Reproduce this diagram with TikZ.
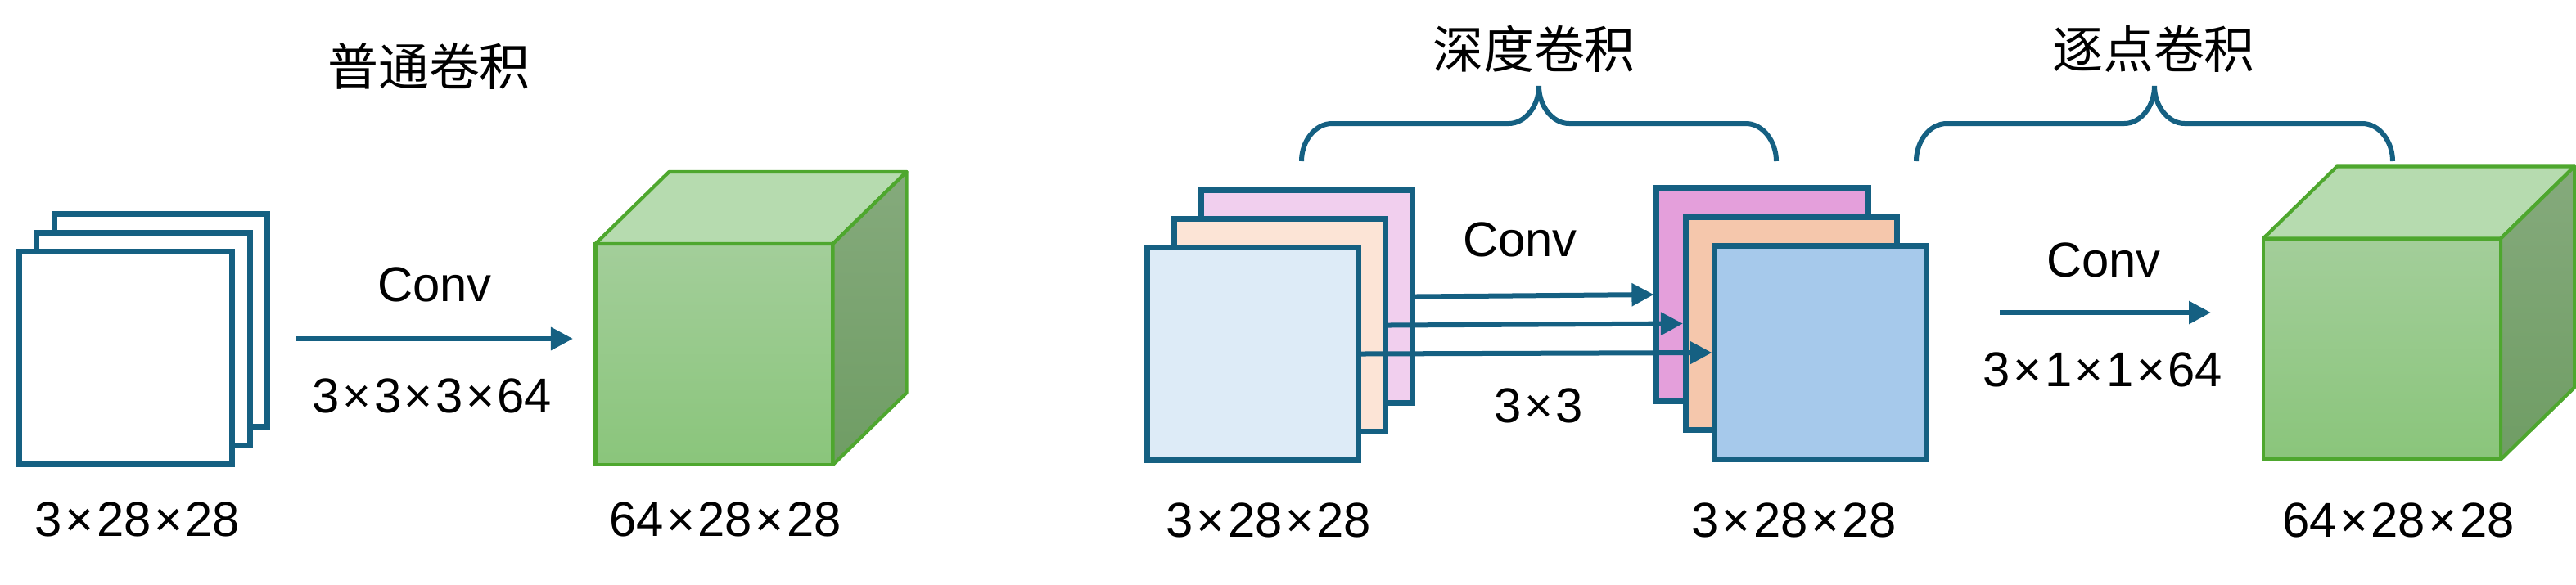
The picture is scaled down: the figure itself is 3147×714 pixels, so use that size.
\documentclass[tikz,border=0pt]{standalone}
\usepackage{fontspec}
\setmainfont{Liberation Sans}
\newfontfamily\cjk{Noto Sans CJK SC}
\usepackage{tikz}
\usetikzlibrary{positioning,arrows.meta}
\usepackage{xcolor}
\definecolor{convblue}{HTML}{156082}
\definecolor{cubegreen}{HTML}{4EA72E}
\definecolor{pinklt}{RGB}{241,207,238}
\definecolor{peachlt}{RGB}{252,228,214}
\definecolor{bluelt}{RGB}{221,235,247}
\definecolor{pinkdk}{RGB}{228,159,219}
\definecolor{peachdk}{RGB}{245,199,172}
\definecolor{bluedk}{RGB}{166,201,235}
\newcommand{\timesx}{\kern1pt×\kern1pt}

\begin{document}
\begin{tikzpicture}[
  x=0.01cm, y=-0.01cm,
  sheet/.style={draw=convblue, line width=0.07cm, fill=white, inner sep=0pt, minimum width=2.6cm, minimum height=2.6cm},
  dwsheet/.style={sheet, minimum width=2.58cm, minimum height=2.6cm},
  cubeface/.style={draw=cubegreen, line width=1.2pt, outer sep=0pt, inner sep=0pt, minimum width=2.9cm, minimum height=2.7cm, top color={rgb,255:red,163;green,206;blue,154}, bottom color={rgb,255:red,138;green,197;blue,123}},
  cubeside/.style={draw=cubegreen, line width=1.2pt, line join=round},
  conn/.style={draw=convblue, line width=0.06cm, -{Triangle[length=0.27cm, width=0.27cm]}},
  brace/.style={draw=convblue, line width=0.06cm},
  lbl/.style={font=\fontsize{17}{20}\selectfont, inner sep=0pt},
  title/.style={font=\cjk\fontsize{17.6}{20}\selectfont, inner sep=0pt}
]
\useasboundingbox (0,0) rectangle (3147,714);

% standard convolution
\node[title] (stdtitle) at (524,81) {普通卷积};
\node[sheet] (std3) at (196.5,391.5) {};
\node[sheet] (std2) at (175,414.5) {};
\node[sheet] (std1) at (153.5,437.5) {};
\node[lbl] (stdin) at (168,635) {3\timesx28\timesx28};
\coordinate (stda) at (362,414);
\coordinate (stdb) at (700,414);
\draw[conn] (stda) -- (stdb);
\node[lbl] (stdconv) at (531,348) {Conv};
\node[lbl] (stdk) at (528,484) {3\timesx3\timesx3\timesx64};

% output cubes
\node[cubeface] (outstd) at (872.5,433) {};
\node[cubeface] (outpw) at (2910,426.5) {};
\foreach \c in {outstd, outpw} {
  \path[cubeside, fill={rgb,255:red,182;green,219;blue,175}] (\c.north west) -- ++(90,-88) -- ([shift={(90,-88)}]\c.north east) -- (\c.north east) -- cycle;
  \path[cubeside, top color={rgb,255:red,133;green,170;blue,124}, bottom color={rgb,255:red,111;green,157;blue,100}] (\c.north east) -- ++(90,-88) -- ([shift={(90,-88)}]\c.south east) -- (\c.south east) -- cycle;
}
\node[lbl] (outstdl) at (886,635) {64\timesx28\timesx28};
\node[lbl] (outpwl) at (2930,636) {64\timesx28\timesx28};

% depthwise convolution
\node[dwsheet, fill=pinklt] (dwin3) at (1596.5,362.5) {};
\node[dwsheet, fill=peachlt] (dwin2) at (1563.5,397.5) {};
\node[dwsheet, fill=bluelt] (dwin1) at (1530.5,432.5) {};
\node[dwsheet, fill=pinkdk] (dwout3) at (2153,360) {};
\node[dwsheet, fill=peachdk] (dwout2) at (2188.5,395.5) {};
\node[dwsheet, fill=bluedk] (dwout1) at (2224,431) {};
\draw[conn] (dwin3.east) -- (dwout3.west);
\draw[conn] (dwin2.east) -- (dwout2.west);
\draw[conn] (dwin1.east) -- (dwout1.west);
\node[lbl] (dwconv) at (1857,293) {Conv};
\node[lbl] (dwk) at (1880,496) {3\timesx3};
\node[lbl] (dwinl) at (1550,636) {3\timesx28\timesx28};
\node[lbl] (dwoutl) at (2192,636) {3\timesx28\timesx28};

% pointwise convolution
\coordinate (pwa) at (2443,382);
\coordinate (pwb) at (2701,382);
\draw[conn] (pwa) -- (pwb);
\node[lbl] (pwconv) at (2570,318) {Conv};
\node[lbl] (pwk) at (2569,452) {3\timesx1\timesx1\timesx64};

% braces and titles
\foreach \bx/\bw in {1880/290, 2632/291}
  \draw[brace] (\bx-\bw,197) .. controls (\bx-\bw,172) and (\bx-\bw+17,151) .. (\bx-\bw+37,151)
    -- (\bx-37,151) .. controls (\bx-17,151) and (\bx,130) .. (\bx,105)
    .. controls (\bx,130) and (\bx+17,151) .. (\bx+37,151)
    -- (\bx+\bw-37,151) .. controls (\bx+\bw-17,151) and (\bx+\bw,172) .. (\bx+\bw,197);
\node[title] (dwtitle) at (1874,60) {深度卷积};
\node[title] (pwtitle) at (2631,60) {逐点卷积};
\end{tikzpicture}
\end{document}
